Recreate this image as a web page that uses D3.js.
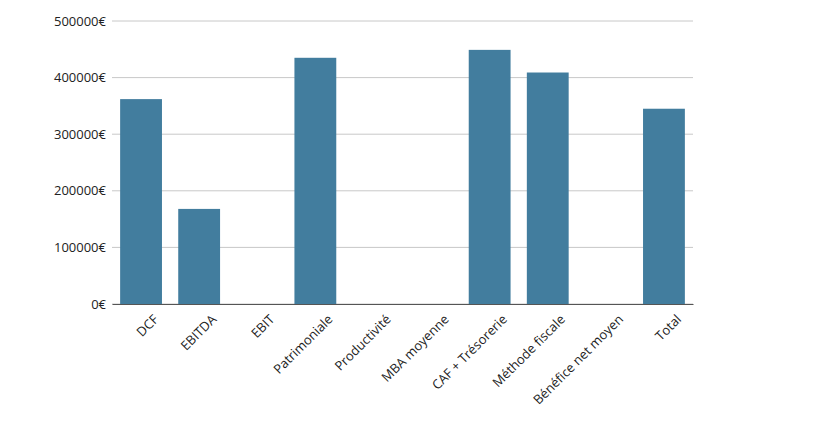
<!DOCTYPE html>
<html><head><meta charset="utf-8">
<script src="https://cdn.jsdelivr.net/npm/d3@7"></script>
<style>body{margin:0;background:#fff}text{font-family:"Open Sans",Lato,sans-serif}</style>
</head><body><svg id="c" width="820" height="432"></svg>
<script>
const categories=["DCF","EBITDA","EBIT","Patrimoniale","Productivité","MBA moyenne","CAF + Trésorerie","Méthode fiscale","Bénéfice net moyen","Total"];
const values=[362000,168000,0,435000,0,0,449000,409000,0,345000];
const yTicks=[0,100000,200000,300000,400000,500000];
const svg=d3.select("#c");
const m={l:112,r:127,t:21,b:128};
const W=820-m.l-m.r,H=432-m.t-m.b;
const g=svg.append("g").attr("transform",`translate(${m.l},${m.t})`);
const x=d3.scaleBand().domain(categories).range([0,W]).paddingInner(0.28).paddingOuter(0.14);
const y=d3.scaleLinear().domain([0,500000]).range([H,0]);
g.append("g").selectAll("line").data(yTicks).join("line")
 .attr("x1",0).attr("x2",W).attr("y1",d=>y(d)).attr("y2",d=>y(d)).attr("stroke","#c8c8c8");
const ya=g.append("g").call(d3.axisLeft(y).tickValues(yTicks).tickSize(0).tickPadding(6).tickFormat(d=>d+"€"));
ya.select(".domain").remove();
ya.selectAll("text").attr("font-size",13).attr("fill","#222");
g.selectAll("rect").data(values).join("rect")
 .attr("x",(d,i)=>x(categories[i])).attr("width",x.bandwidth())
 .attr("y",d=>y(d)).attr("height",d=>H-y(d)).attr("fill","#427d9e");
const xa=g.append("g").attr("transform",`translate(0,${H})`).call(d3.axisBottom(x).tickSize(0).tickPadding(8));
xa.select(".domain").attr("stroke","#555");
xa.selectAll("text").attr("font-size",13).attr("fill","#222").attr("text-anchor","end")
 .attr("transform","translate(6,4) rotate(-45)");
</script></body></html>
